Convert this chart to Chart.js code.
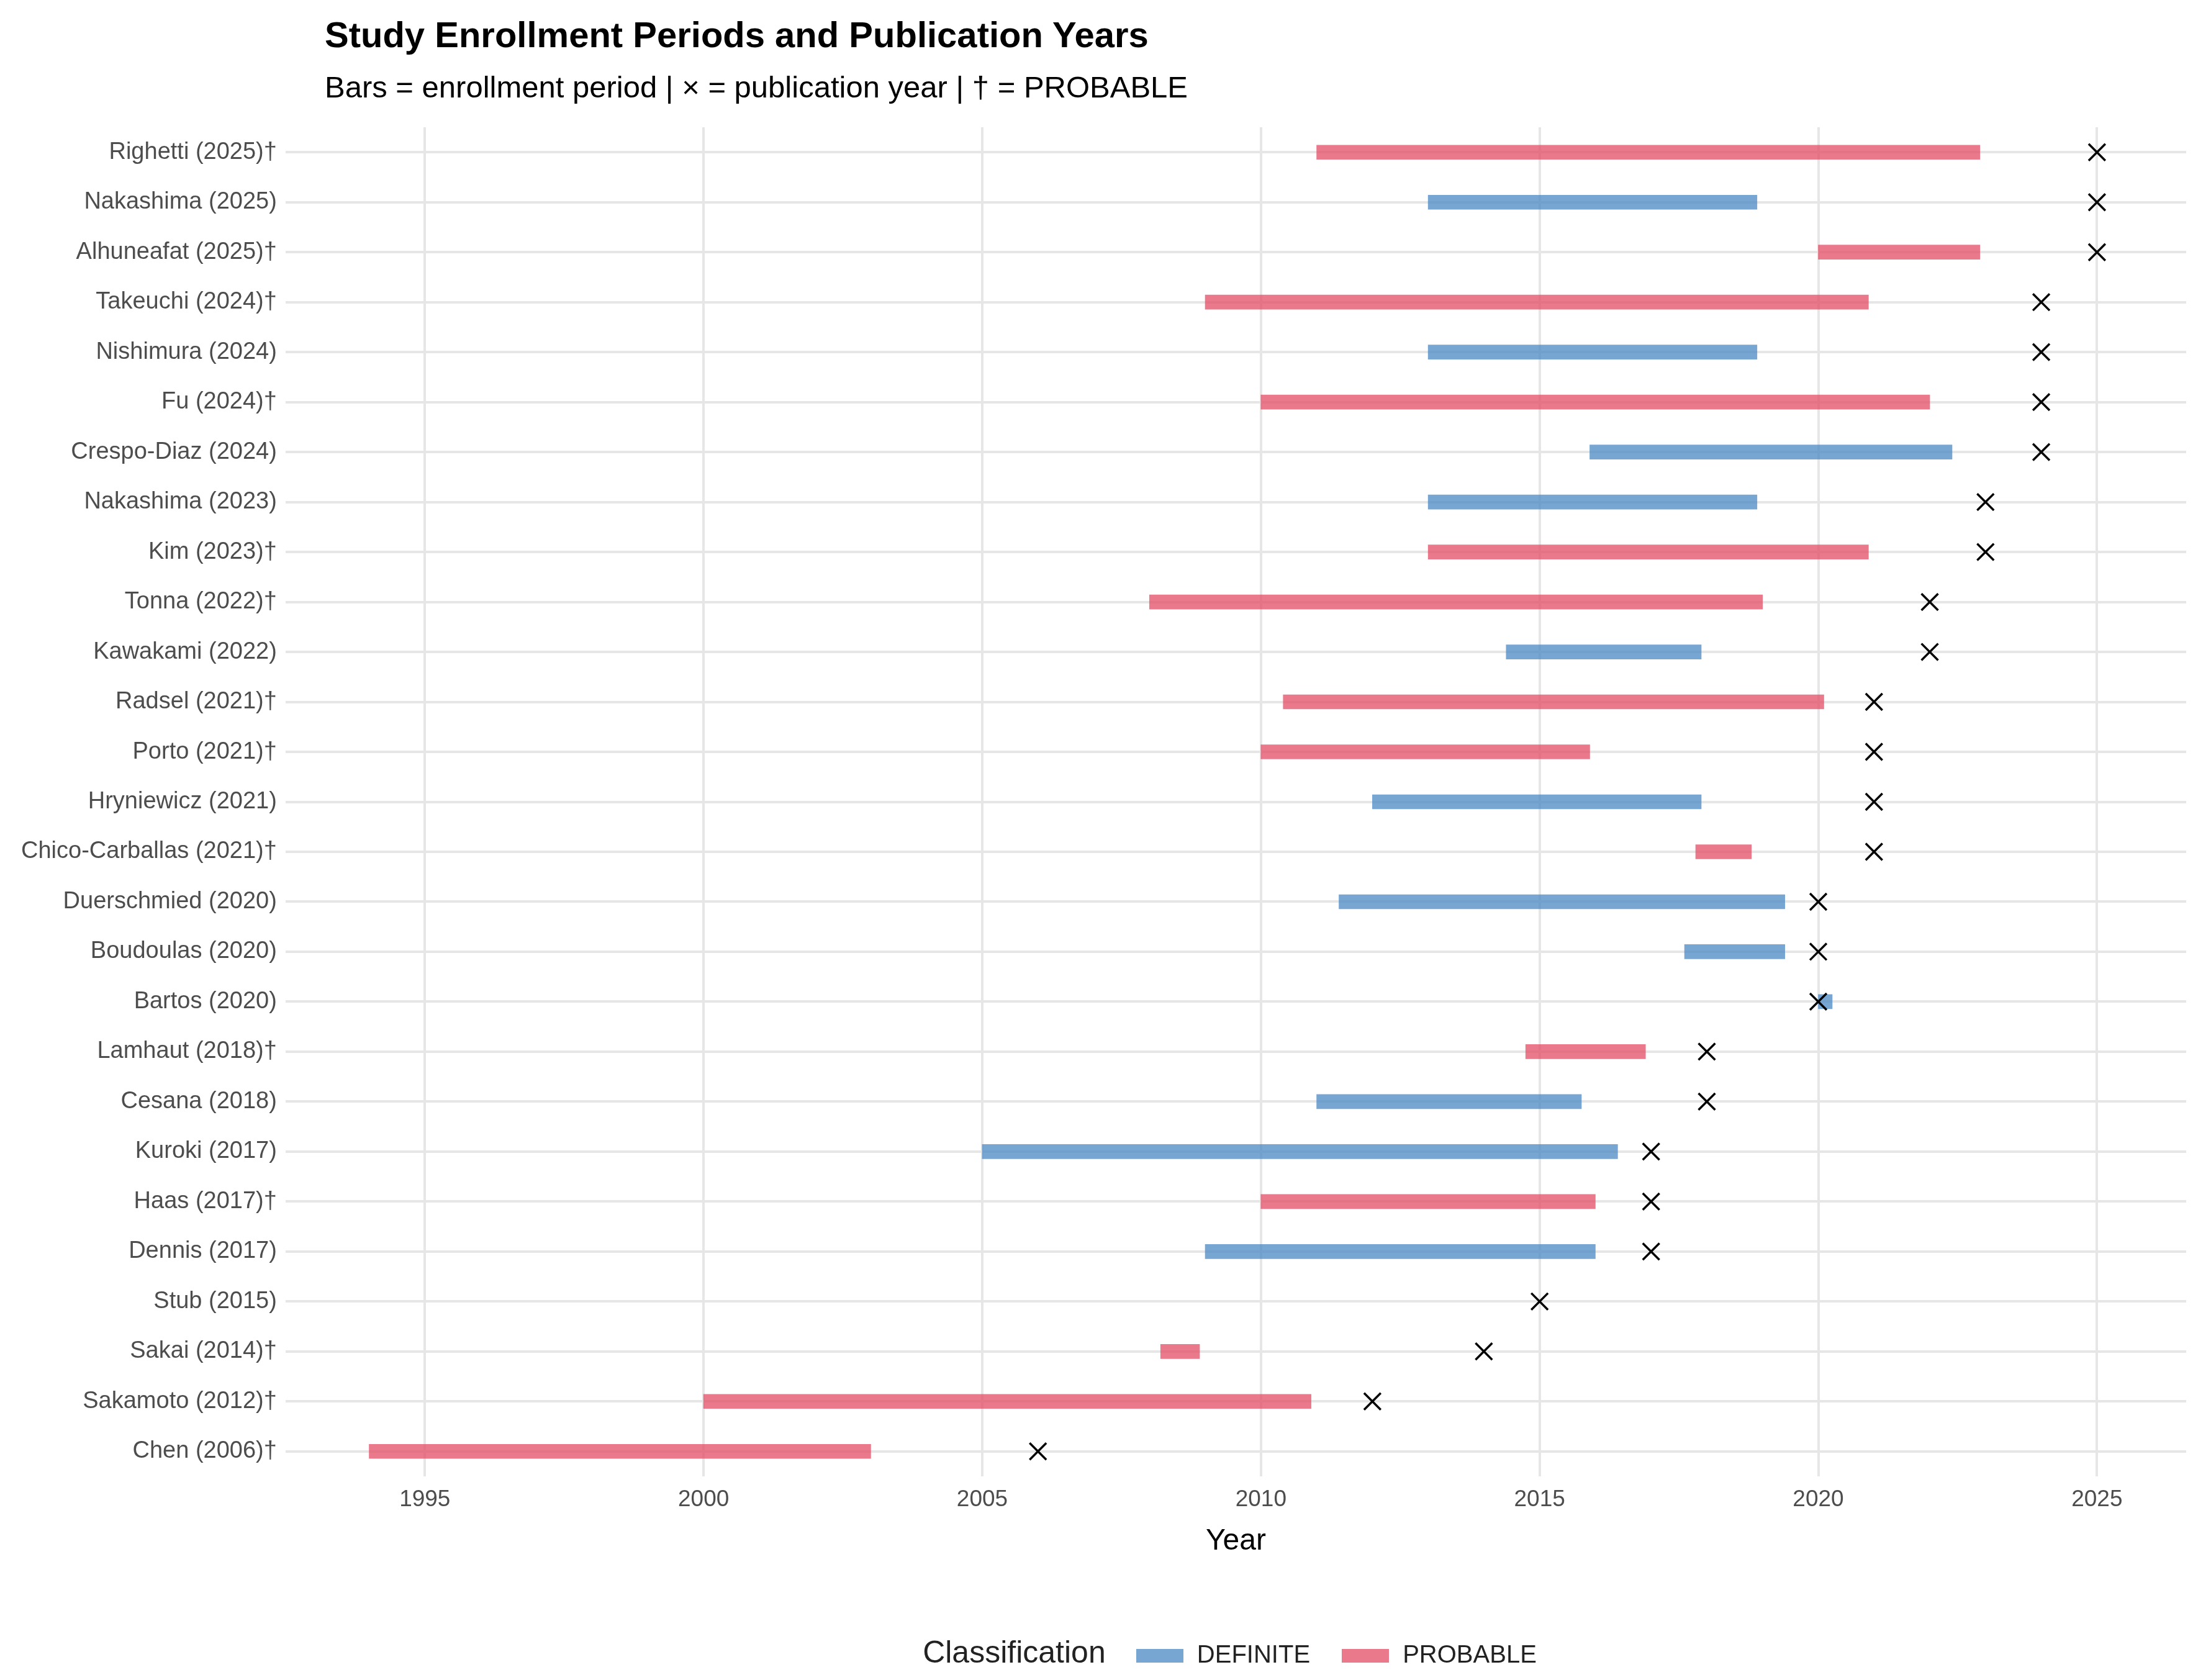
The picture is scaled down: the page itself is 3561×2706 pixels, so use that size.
<!DOCTYPE html>
<html>
<head>
<meta charset="utf-8">
<script src="https://cdn.jsdelivr.net/npm/chart.js@4"></script>
<style>
  body { margin: 0; background: #fff; font-family: "Liberation Sans", Arial, sans-serif; }
  #wrap { position: relative; width: 3561px; height: 2706px; }
  #title { position: absolute; left: 523px; top: 22px; font-size: 58px; font-weight: bold; color: #000; }
  #subtitle { position: absolute; left: 523px; top: 112px; font-size: 49px; color: #000; }
  #legend { position: absolute; left: 200px; width: 3561px; top: 2632px; text-align: center; font-size: 40px; color: #222; }
  #legend .ttl { font-size: 50px; margin-right: 38px; }
  #legend .sw { display: inline-block; width: 76px; height: 22px; vertical-align: middle; margin-right: 22px; }
  #legend .it { margin-right: 40px; }
</style>
</head>
<body>
<div id="wrap">
  <canvas id="c" width="3561" height="2706"></canvas>
  <div id="title">Study Enrollment Periods and Publication Years</div>
  <div id="subtitle">Bars = enrollment period | × = publication year | † = PROBABLE</div>
  <div id="legend">
    <span class="ttl">Classification</span>
    <span class="sw" style="background:rgba(74,136,196,0.75)"></span><span class="it">DEFINITE</span>
    <span class="sw" style="background:rgba(226,76,100,0.75)"></span><span>PROBABLE</span>
  </div>
</div>
<script>
// Данные исследований (сверху вниз)
const studies = ['Righetti (2025)†', 'Nakashima (2025)', 'Alhuneafat (2025)†', 'Takeuchi (2024)†',
  'Nishimura (2024)', 'Fu (2024)†', 'Crespo-Diaz (2024)', 'Nakashima (2023)', 'Kim (2023)†',
  'Tonna (2022)†', 'Kawakami (2022)', 'Radsel (2021)†', 'Porto (2021)†', 'Hryniewicz (2021)',
  'Chico-Carballas (2021)†', 'Duerschmied (2020)', 'Boudoulas (2020)', 'Bartos (2020)',
  'Lamhaut (2018)†', 'Cesana (2018)', 'Kuroki (2017)', 'Haas (2017)†', 'Dennis (2017)',
  'Stub (2015)', 'Sakai (2014)†', 'Sakamoto (2012)†', 'Chen (2006)†'];
const classification = ['P', 'D', 'P', 'P', 'D', 'P', 'D', 'D', 'P', 'P', 'D', 'P', 'P', 'D',
  'P', 'D', 'D', 'D', 'P', 'D', 'D', 'P', 'D', 'D', 'P', 'P', 'P'];
const enrollStart = [2011.0, 2013.0, 2020.0, 2009.0, 2013.0, 2010.0, 2015.9, 2013.0, 2013.0,
  2008.0, 2014.4, 2010.4, 2010.0, 2012.0, 2017.8, 2011.4, 2017.6, 2020.0,
  2014.75, 2011.0, 2005.0, 2010.0, 2009.0, null, 2008.2, 2000.0, 1994.0];
const enrollEnd = [2022.9, 2018.9, 2022.9, 2020.9, 2018.9, 2022.0, 2022.4, 2018.9, 2020.9,
  2019.0, 2017.9, 2020.1, 2015.9, 2017.9, 2018.8, 2019.4, 2019.4, 2020.25,
  2016.9, 2015.75, 2016.4, 2016.0, 2016.0, null, 2008.9, 2010.9, 2003.0];
const pubYear = [2025, 2025, 2025, 2024, 2024, 2024, 2024, 2023, 2023, 2022, 2022, 2021, 2021,
  2021, 2021, 2020, 2020, 2020, 2018, 2018, 2017, 2017, 2017, 2015, 2014, 2012, 2006];
const yearTicks = [1995, 2000, 2005, 2010, 2015, 2020, 2025];

function bars(cls) {
  return studies.map((s, i) => (classification[i] === cls && enrollStart[i] !== null)
    ? [enrollStart[i], enrollEnd[i]] : null);
}

const ctx = document.getElementById('c').getContext('2d');
new Chart(ctx, {
  type: 'bar',
  data: {
    labels: studies,
    datasets: [
      { label: 'DEFINITE', data: bars('D'), backgroundColor: 'rgba(74,136,196,0.75)',
        barThickness: 23, grouped: false, order: 2 },
      { label: 'PROBABLE', data: bars('P'), backgroundColor: 'rgba(226,76,100,0.75)',
        barThickness: 23, grouped: false, order: 2 },
      { type: 'scatter', label: 'pub', data: studies.map((s, i) => ({ x: pubYear[i], y: s })),
        pointStyle: 'crossRot', radius: 19, borderColor: '#000', borderWidth: 3.5,
        showLine: false, order: 1 }
    ]
  },
  options: {
    indexAxis: 'y',
    responsive: false,
    devicePixelRatio: 1,
    animation: false,
    layout: { padding: { top: 205, bottom: 190, right: 40, left: 20 } },
    plugins: { legend: { display: false }, tooltip: { enabled: false } },
    scales: {
      x: {
        type: 'linear', min: 1992.5, max: 2026.6,
        afterBuildTicks: ax => { ax.ticks = yearTicks.map(v => ({ value: v })); },
        grid: { color: '#e6e6e6', lineWidth: 4, drawTicks: false },
        border: { display: false },
        ticks: { color: '#4d4d4d', font: { size: 37, family: 'Liberation Sans' }, padding: 16,
          callback: v => String(v) },
        title: { display: true, text: 'Year', color: '#000', font: { size: 48, family: 'Liberation Sans' }, padding: { top: 0 } }
      },
      y: {
        grid: { color: '#e6e6e6', lineWidth: 4, drawTicks: false, offset: false },
        border: { display: false },
        ticks: { color: '#4d4d4d', font: { size: 38, family: 'Liberation Sans' }, padding: 14 }
      }
    }
  }
});
</script>
</body>
</html>
